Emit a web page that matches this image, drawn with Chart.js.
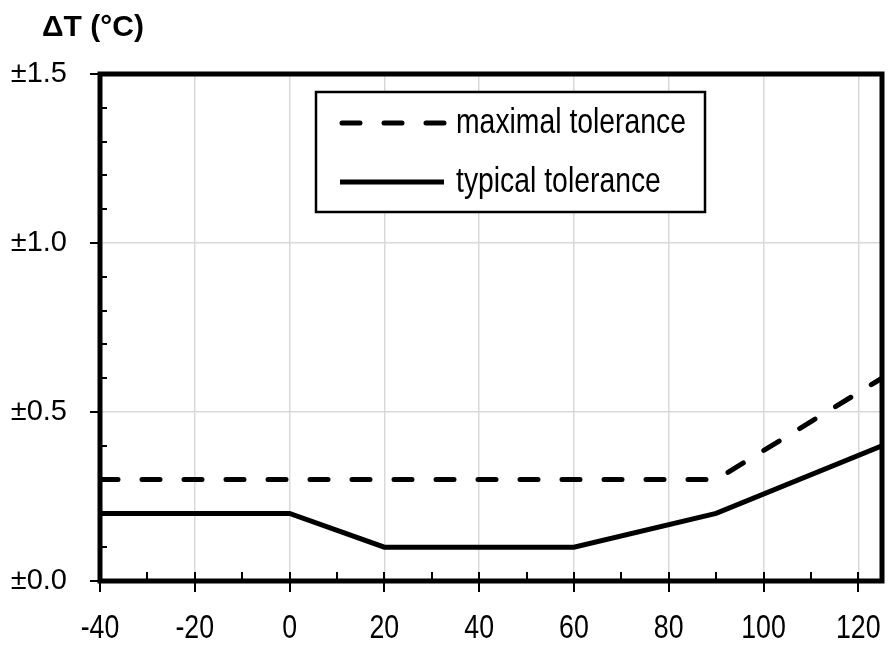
<!DOCTYPE html>
<html>
<head>
<meta charset="utf-8">
<script src="https://cdn.jsdelivr.net/npm/chart.js@4"></script>
<style>
html,body{margin:0;padding:0;background:#fff;}
#wrap{width:894px;height:656px;position:relative;}
</style>
</head>
<body>
<div id="wrap"><canvas id="c" width="894" height="656"></canvas></div>
<script>
const FONT = '"Liberation Sans", Arial, sans-serif';
const titleText = 'ΔT (°C)';
const maxLabel = 'maximal tolerance';
const typLabel = 'typical tolerance';
const maxX = [-40, 90, 125];
const maxY = [0.3, 0.3, 0.6];
const typX = [-40, 0, 20, 60, 90, 125];
const typY = [0.2, 0.2, 0.1, 0.1, 0.2, 0.4];
const xMajorTicks = [-40, -20, 0, 20, 40, 60, 80, 100, 120];
const xMinorTicks = [-30, -10, 10, 30, 50, 70, 90, 110];
const yMajorTicks = [0, 0.5, 1.0, 1.5];
const yMinorTicks = [0.1, 0.2, 0.3, 0.4, 0.6, 0.7, 0.8, 0.9, 1.1, 1.2, 1.3, 1.4];

const toPts = (xs, ys) => xs.map((x, i) => ({x: x, y: ys[i]}));
const NARROW = 0.81;

function narrowText(ctx, text, x, y, align) {
  const w = ctx.measureText(text).width * NARROW;
  let x0 = x;
  if (align === 'center') x0 = x - w / 2;
  else if (align === 'right') x0 = x - w;
  ctx.save();
  ctx.translate(x0, y);
  ctx.scale(NARROW, 1);
  ctx.textAlign = 'left';
  ctx.fillText(text, 0, 0);
  ctx.restore();
}

const framePlugin = {
  id: 'frame',
  afterDraw(chart) {
    const ctx = chart.ctx;
    const a = chart.chartArea;
    const xs = chart.scales.x, ys = chart.scales.y;
    ctx.save();
    ctx.strokeStyle = '#000';
    ctx.lineCap = 'butt';
    ctx.lineWidth = 2;
    xMajorTicks.forEach(v => {
      const px = Math.round(xs.getPixelForValue(v));
      ctx.beginPath(); ctx.moveTo(px, a.bottom - 9); ctx.lineTo(px, a.bottom + 11); ctx.stroke();
    });
    xMinorTicks.forEach(v => {
      const px = Math.round(xs.getPixelForValue(v));
      ctx.beginPath(); ctx.moveTo(px, a.bottom); ctx.lineTo(px, a.bottom - 9); ctx.stroke();
    });
    yMajorTicks.forEach(v => {
      const py = Math.round(ys.getPixelForValue(v));
      ctx.beginPath(); ctx.moveTo(a.left - 10, py); ctx.lineTo(a.left, py); ctx.stroke();
    });
    yMinorTicks.forEach(v => {
      const py = Math.round(ys.getPixelForValue(v));
      ctx.beginPath(); ctx.moveTo(a.left, py); ctx.lineTo(a.left + 7, py); ctx.stroke();
    });
    // frame
    ctx.lineWidth = 5;
    ctx.lineJoin = 'miter';
    ctx.strokeRect(a.left, a.top, a.right - a.left, a.bottom - a.top);
    // x tick labels (condensed) at the scale's tick positions
    ctx.fillStyle = '#000';
    ctx.font = '33px ' + FONT;
    ctx.textBaseline = 'alphabetic';
    xs.ticks.forEach(t => {
      const px = xs.getPixelForValue(t.value);
      const lbl = (t.label !== undefined && t.label !== '') ? t.label : String(t.value);
      narrowText(ctx, String(lbl), px, a.bottom + 57, 'center');
    });
    // title
    ctx.font = 'bold 30px ' + FONT;
    ctx.textAlign = 'left';
    ctx.textBaseline = 'alphabetic';
    ctx.fillText(titleText, 42, 36);
    // legend
    const lx = 316, ly = 92, lw = 389, lh = 120;
    ctx.fillStyle = '#fff';
    ctx.fillRect(lx, ly, lw, lh);
    ctx.lineWidth = 2.5;
    ctx.strokeRect(lx, ly, lw, lh);
    chart.data.datasets.forEach((ds, i) => {
      const yy = ly + 31 + i * 59;
      ctx.save();
      ctx.lineWidth = ds.borderWidth;
      ctx.lineCap = ds.borderCapStyle || 'butt';
      ctx.setLineDash(ds.borderDash || []);
      ctx.beginPath();
      ctx.moveTo(ds.borderDash && ds.borderDash.length ? 342 : 340, yy);
      ctx.lineTo(444, yy);
      ctx.stroke();
      ctx.restore();
      ctx.fillStyle = '#000';
      ctx.font = '35px ' + FONT;
      ctx.textBaseline = 'alphabetic';
      narrowText(ctx, ds.label, 456, yy + 10, 'left');
    });
    ctx.restore();
  }
};

new Chart(document.getElementById('c'), {
  type: 'line',
  data: {
    datasets: [
      {label: maxLabel, data: toPts(maxX, maxY), borderColor: '#000', borderWidth: 5,
       borderDash: [18, 24], borderCapStyle: 'round', pointRadius: 0, fill: false, tension: 0},
      {label: typLabel, data: toPts(typX, typY), borderColor: '#000', borderWidth: 5,
       borderCapStyle: 'butt', pointRadius: 0, fill: false, tension: 0}
    ]
  },
  options: {
    responsive: false,
    animation: false,
    events: [],
    layout: {padding: {top: 74, right: 12, left: 0, bottom: 0}},
    plugins: {legend: {display: false}, tooltip: {enabled: false}},
    scales: {
      x: {
        type: 'linear', min: -40, max: 125,
        afterBuildTicks: s => { s.ticks = xMajorTicks.map(v => ({value: v})); },
        afterFit: s => { s.height = 75; s.paddingLeft = 0; s.paddingRight = 0; },
        grid: {color: '#d9d9d9', lineWidth: 1.5, drawTicks: false},
        border: {display: false},
        ticks: {display: false, callback: v => String(v)}
      },
      y: {
        type: 'linear', min: 0, max: 1.5,
        afterBuildTicks: s => { s.ticks = yMajorTicks.map(v => ({value: v})); },
        afterFit: s => { s.width = 100; s.paddingTop = 0; s.paddingBottom = 0; },
        grid: {color: '#d9d9d9', lineWidth: 1.5, drawTicks: false},
        border: {display: false},
        ticks: {color: '#000', padding: 33, autoSkip: false,
                font: {family: FONT, size: 29}, callback: v => '±' + Number(v).toFixed(1)}
      }
    }
  },
  plugins: [framePlugin]
});
</script>
</body>
</html>
